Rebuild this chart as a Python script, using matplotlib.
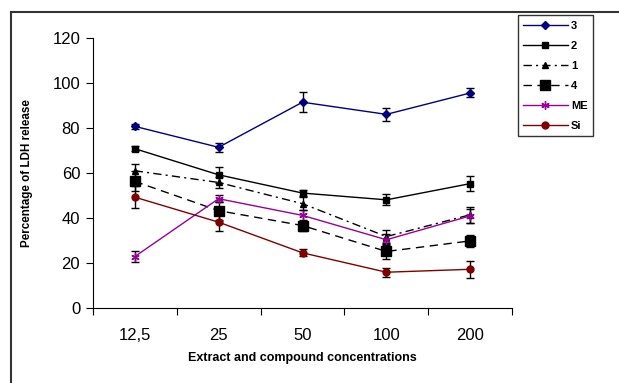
import numpy as np
import matplotlib
matplotlib.use('Agg')
import matplotlib.pyplot as plt
from matplotlib.lines import Line2D

plt.rcParams['font.family'] = ['Liberation Sans', 'DejaVu Sans']

# Concentrations (category labels) and LDH release per series, with error bars.
CONCENTRATIONS = ['12,5', '25', '50', '100', '200']
SERIES_NAMES = ['3', '2', '1', '4', 'ME', 'Si']
VALUES_3 = [80.7, 71.4, 91.4, 86.0, 95.5]
VALUES_2 = [70.8, 59.2, 51.1, 48.1, 55.3]
VALUES_1 = [61.0, 55.8, 46.4, 31.8, 41.5]
VALUES_4 = [56.3, 43.3, 36.7, 25.2, 29.9]
VALUES_ME = [22.9, 48.6, 41.2, 30.4, 41.0]
VALUES_SI = [49.3, 38.2, 24.6, 16.0, 17.3]
ERR_3 = [1.0, 2.0, 4.5, 2.8, 2.0]
ERR_2 = [1.0, 3.5, 1.5, 2.5, 3.5]
ERR_1 = [3.0, 2.5, 3.0, 3.0, 3.5]
ERR_4 = [4.5, 4.0, 2.5, 3.5, 2.5]
ERR_ME = [2.5, 1.5, 2.5, 2.5, 3.0]
ERR_SI = [4.9, 4.0, 1.5, 2.0, 3.7]

values = [VALUES_3, VALUES_2, VALUES_1, VALUES_4, VALUES_ME, VALUES_SI]
errors = [ERR_3, ERR_2, ERR_1, ERR_4, ERR_ME, ERR_SI]
colours = ['#000080', 'black', 'black', 'black', '#990099', '#800000']
markers = ['D', 's', '^', 's', (6, 2, 0), 'o']
msizes = [4.5, 4.5, 5, 7.5, 6, 5]
dashes = [None, None, (6, 3, 1.5, 3), (6, 4), None, None]

W, H = 619, 383
fig = plt.figure(figsize=(W / 100, H / 100), dpi=100)
ax = fig.add_axes([92.7 / W, 1 - 308.3 / H, (512.3 - 92.7) / W, (308.3 - 37.7) / H])

x = np.arange(1, len(CONCENTRATIONS) + 1)
for name, v, e, c, m, ms, d in zip(SERIES_NAMES, values, errors, colours, markers, msizes, dashes):
    ax.errorbar(x, v, yerr=e, fmt='none', ecolor='black', elinewidth=1, capsize=3, capthick=1, zorder=2)
    line, = ax.plot(x, v, color=c, marker=m, markersize=ms, linewidth=1, label=name,
                    markeredgecolor=c, markerfacecolor=c, zorder=3)
    if d is not None:
        line.set_dashes(d)

ax.set_xlim(0.5, len(CONCENTRATIONS) + 0.5)
ax.set_ylim(0, 120)
ax.set_yticks(range(0, 121, 20))
ax.set_xticks(np.arange(0.5, len(CONCENTRATIONS) + 1, 1))
ax.set_xticklabels([])
ax.set_xticks(x, minor=True)
ax.set_xticklabels(CONCENTRATIONS, minor=True)
ax.tick_params(axis='x', which='minor', length=0, pad=14, labelsize=12)
ax.tick_params(axis='x', which='major', length=5, direction='out')
ax.tick_params(axis='y', length=5, direction='out', labelsize=12, pad=4)
for s in ['top', 'right']:
    ax.spines[s].set_visible(False)
ax.set_xlabel('Extract and compound concentrations', fontsize=9, fontweight='bold', labelpad=7)
ax.set_ylabel('Percentage of LDH release', fontsize=8.4, fontweight='bold', labelpad=14)

leg = fig.legend(loc='upper left', bbox_to_anchor=(517.5 / W, 1 - 15 / H), borderaxespad=0,
                 fancybox=False, framealpha=1, edgecolor='#333333', handlelength=4,
                 labelspacing=0.9, prop={'weight': 'bold', 'size': 8}, handletextpad=0.3,
                 borderpad=0.5)
leg.get_frame().set_linewidth(1)

# Outer chart frame (cut off at the right and bottom edges).
fig.add_artist(Line2D([11 / W, 1.01], [1 - 12 / H] * 2, color='#333333', linewidth=1.5, transform=fig.transFigure))
fig.add_artist(Line2D([11 / W] * 2, [1 - 12 / H, -0.01], color='#333333', linewidth=1.5, transform=fig.transFigure))

fig.savefig('out.png', dpi=100)
